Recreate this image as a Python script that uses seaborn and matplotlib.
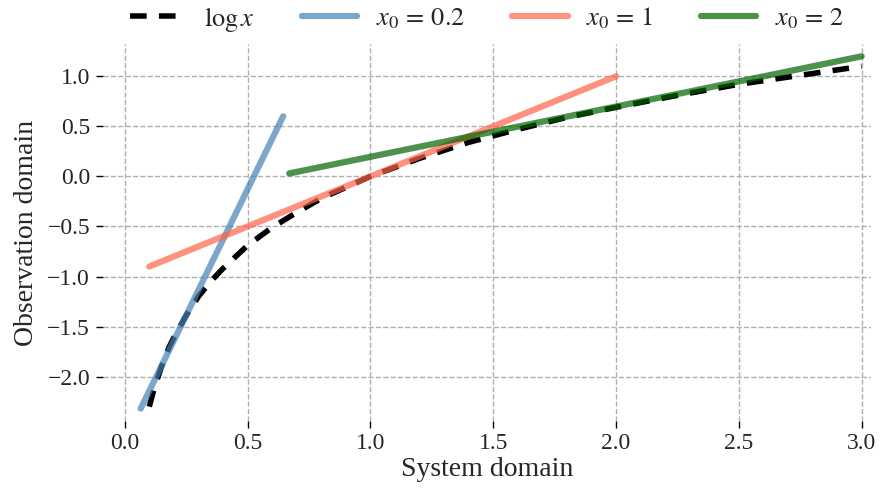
import numpy as np
import pandas as pd
import matplotlib
matplotlib.use("Agg")
import matplotlib.pyplot as plt
import seaborn as sns

# log x curve
log_x = [0.10, 0.12, 0.15, 0.18, 0.20, 0.25, 0.30, 0.35, 0.40, 0.50, 0.60, 0.70, 0.80,
         0.90, 1.00, 1.20, 1.40, 1.60, 1.80, 2.00, 2.25, 2.50, 2.75, 3.00]
log_y = [-2.30, -2.12, -1.90, -1.71, -1.61, -1.39, -1.20, -1.05, -0.92, -0.69, -0.51,
         -0.36, -0.22, -0.11, 0.00, 0.18, 0.34, 0.47, 0.59, 0.69, 0.81, 0.92, 1.01, 1.10]

# tangent lines
t02_x = [0.065, 0.645]
t02_y = [-2.32, 0.60]
t1_x = [0.10, 2.00]
t1_y = [-0.90, 1.00]
t2_x = [0.67, 3.00]
t2_y = [0.03, 1.20]

xticks = [0.0, 0.5, 1.0, 1.5, 2.0, 2.5, 3.0]
yticks = [-2.0, -1.5, -1.0, -0.5, 0.0, 0.5, 1.0]

sns.set_theme(style="white")
plt.rcParams['font.family'] = ['Liberation Serif', 'DejaVu Serif']
plt.rcParams['mathtext.fontset'] = 'stix'

fig = plt.figure(figsize=(8.92, 4.92), dpi=100)
ax = fig.add_axes([0.115, 0.145, 0.862, 0.765])

sns.lineplot(x=log_x, y=log_y, ax=ax, color='black', lw=4, linestyle=(0, (3, 2.2)),
             label=r'$\log x$', estimator=None, sort=False)
sns.lineplot(x=t02_x, y=t02_y, ax=ax, color='steelblue', alpha=0.7, lw=4.5,
             label=r'$x_0 \,=\, 0.2$', estimator=None, sort=False)
sns.lineplot(x=t1_x, y=t1_y, ax=ax, color='tomato', alpha=0.7, lw=4.5,
             label=r'$x_0 \,=\, 1$', estimator=None, sort=False)
sns.lineplot(x=t2_x, y=t2_y, ax=ax, color='darkgreen', alpha=0.7, lw=4.5,
             label=r'$x_0 \,=\, 2$', estimator=None, sort=False)

ax.set_xlim(-0.09, 3.04)
ax.set_ylim(-2.44, 1.32)
ax.set_xticks(xticks)
ax.set_yticks(yticks)
ax.set_xticklabels([f'{v:.1f}' for v in xticks])
ax.set_yticklabels([f'{v:.1f}'.replace('-', '\u2212') for v in yticks])
ax.tick_params(axis='both', labelsize=17, length=5, width=1, color='black',
               direction='out', bottom=True, left=True, pad=4)
ax.grid(True, linestyle='--', color='#b0b0b0', lw=1)
for s in ax.spines.values():
    s.set_visible(False)

ax.set_xlabel('System domain', fontsize=20, labelpad=2)
ax.set_ylabel('Observation domain', fontsize=20, labelpad=6)

ax.legend(loc='lower center', bbox_to_anchor=(0.5, 1.0), ncol=4, frameon=False,
          fontsize=19, handlelength=2.1, handletextpad=0.7, columnspacing=1.8,
          borderaxespad=0.0)

fig.savefig('out.png', dpi=100)
